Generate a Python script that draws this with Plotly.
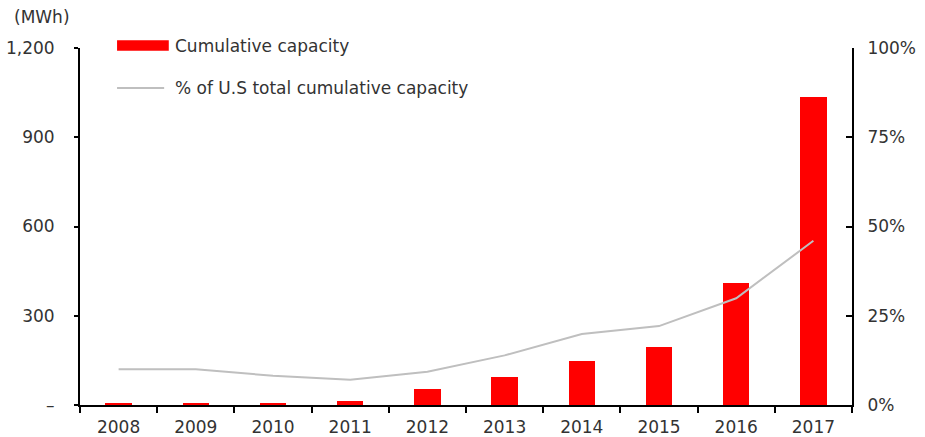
import plotly.graph_objects as go

years = ["2008", "2009", "2010", "2011", "2012", "2013", "2014", "2015", "2016", "2017"]
capacity_mwh = [8, 8, 8, 15, 55, 95, 148, 195, 409, 1035]
share_pct = [0.10, 0.10, 0.082, 0.071, 0.093, 0.139, 0.199, 0.221, 0.299, 0.46]

left_ticks = [0, 300, 600, 900, 1200]
left_labels = ["–", "300", "600", "900", "1,200"]
right_ticks = [0, 0.25, 0.5, 0.75, 1.0]
right_labels = ["0%", "25%", "50%", "75%", "100%"]

bar_name = "Cumulative capacity"
line_name = "% of U.S total cumulative capacity"

FONT = dict(family="DejaVu Sans, Liberation Sans, sans-serif", size=17, color="#333333")

fig = go.Figure()
fig.add_trace(go.Bar(x=years, y=capacity_mwh, name=bar_name, marker_color="#FF0000",
                     marker_line_width=0, width=0.34, yaxis="y", showlegend=False))
fig.add_trace(go.Scatter(x=years, y=share_pct, name=line_name, mode="lines",
                         line=dict(color="#BFBFBF", width=2), yaxis="y2", showlegend=False))

fig.update_layout(
    width=925, height=437,
    margin=dict(l=80, r=73, t=48, b=32, autoexpand=False),
    paper_bgcolor="white", plot_bgcolor="white",
    font=FONT,
    xaxis=dict(type="category", showline=True, linecolor="black", linewidth=2,
               ticks="outside", tickson="boundaries", ticklen=6, tickwidth=2, tickcolor="black",
               showgrid=False, zeroline=False, range=[-0.5, 9.5], automargin=False,
               ticklabelstandoff=6),
    yaxis=dict(range=[0, 1200], tickvals=left_ticks, ticktext=left_labels,
               showline=True, linecolor="black", linewidth=2, ticks="outside",
               ticklen=4, tickwidth=2, tickcolor="black", showgrid=False, zeroline=False,
               ticklabelstandoff=16, automargin=False),
    yaxis2=dict(range=[0, 1.0], tickvals=right_ticks, ticktext=right_labels,
                overlaying="y", side="right", showline=True, linecolor="black", linewidth=2,
                ticks="inside", ticklen=6, tickwidth=2, tickcolor="black", showgrid=False,
                zeroline=False, ticklabelstandoff=10, automargin=False),
    bargap=0,
)

# unit label
fig.add_annotation(text="(MWh)", xref="paper", yref="paper", x=-0.088, y=1.087,
                   xanchor="left", yanchor="middle", showarrow=False, font=FONT)

# custom legend
fig.add_shape(type="rect", xref="paper", yref="paper", x0=0.048, x1=0.115, y0=0.992, y1=1.022,
              fillcolor="#FF0000", line_width=0)
fig.add_annotation(text=bar_name, xref="paper", yref="paper", x=0.121, y=1.006,
                   xanchor="left", yanchor="middle", showarrow=False, font=FONT)
fig.add_shape(type="line", xref="paper", yref="paper", x0=0.048, x1=0.109, y0=0.888, y1=0.888,
              line=dict(color="#BFBFBF", width=2))
fig.add_annotation(text=line_name, xref="paper", yref="paper", x=0.121, y=0.888,
                   xanchor="left", yanchor="middle", showarrow=False, font=FONT)

fig.write_html("out.html", config={"displayModeBar": False},
               post_script="document.body.style.margin='0';document.body.style.padding='0';")
